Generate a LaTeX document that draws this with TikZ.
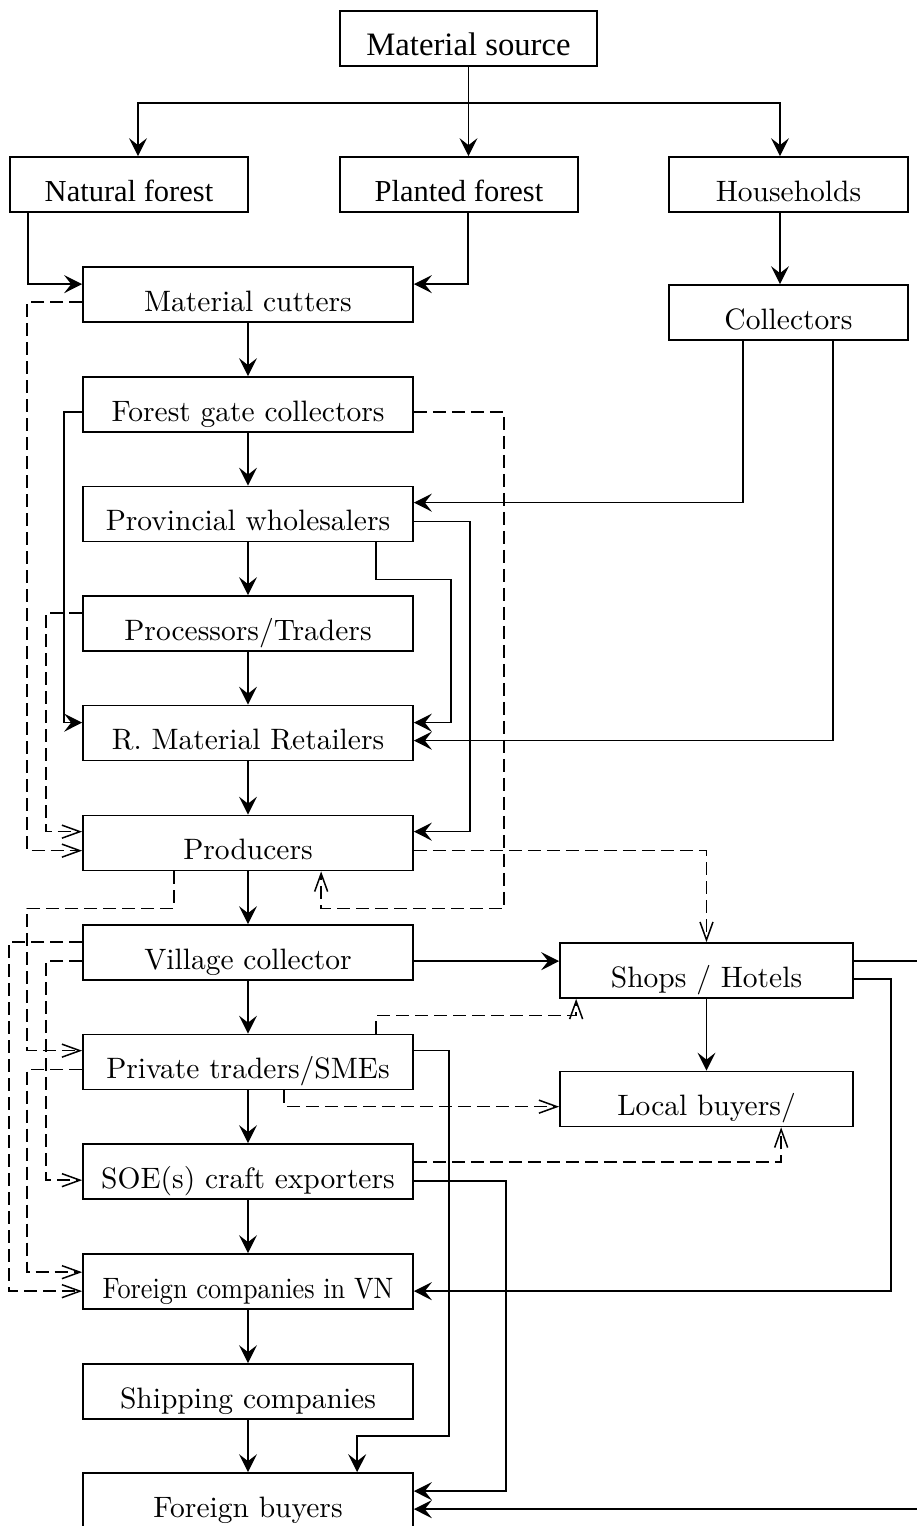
\documentclass[tikz,border=0pt]{standalone}
\usepackage{fontspec}
\setmainfont{lmroman10-regular.otf}
\newfontfamily\timesfont{Liberation Serif}
\usetikzlibrary{arrows.meta,calc}
\begin{document}
\begin{tikzpicture}[x=1pt,y=-1pt,
  box/.style={draw, line width=1.7pt, rectangle, inner sep=0pt,
    minimum height=55pt, text height=33pt, text depth=0pt,
    font=\fontsize{29.5}{34}\selectfont},
  chain/.style={box, minimum width=330pt},
  side/.style={box, minimum width=293pt},
  top/.style={box, minimum width=238pt, font=\timesfont\fontsize{30.5}{36}\selectfont},
  conn/.style={line width=1.5pt},
  arr/.style={conn, -{Stealth[length=18pt,width=18pt,inset=7pt]}},
  darr/.style={conn, dash pattern=on 13pt off 6pt,
    -{Straight Barb[length=18pt,width=13pt]}},
]
\useasboundingbox (0,0) rectangle (916,1526);
\fill[white] (0,0) rectangle (916,1526);

% ---------- sources ----------
\node[box, minimum width=257pt, font=\timesfont\fontsize{32.7}{38}\selectfont]
  (src) at (468.5,38.5) {Material source};
\node[top] (nat) at (129,184.5) {Natural forest};
\node[top] (pla) at (459,184.5) {Planted forest};
\node[box, minimum width=239pt] (hou) at (788.5,184.5) {Households};
\node[box, minimum width=239pt] (col) at (788.5,312.5) {Collectors};

% ---------- main chain ----------
\node[chain] (cut) at (248,294.5)  {Material cutters};
\node[chain] (fgc) at (248,404.5)  {Forest gate collectors};
\node[chain] (pro) at (248,514)    {Provincial wholesalers};
\node[chain] (prc) at (248,623.5)  {Processors/Traders};
\node[chain] (ret) at (248,733)    {R. Material Retailers};
\node[chain] (prd) at (248,843)    {Producers};
\node[chain] (vil) at (248,952.5)  {Village collector};
\node[chain] (pvt) at (248,1062)   {Private traders/SMEs};
\node[chain] (soe) at (248,1171.5) {SOE(s) craft exporters};
\node[chain] (fcv) at (248,1281.5) {\scalebox{0.89}[1]{Foreign companies in VN}};
\node[chain] (shc) at (248,1391.5) {Shipping companies};
\node[chain] (fby) at (248,1500.5) {Foreign buyers};

% ---------- domestic outlets ----------
\node[side] (shp) at (706.5,970.5) {Shops / Hotels};
\node[side] (loc) at (706.5,1099)  {Local buyers/};

% ---------- source branching ----------
\draw[conn] (src.south) -- ++(0,36) coordinate (bus);
\draw[arr] (bus) -| ($(nat.north)+(9,0)$);
\draw[arr] (bus) -- (bus |- pla.north);
\draw[arr] (bus) -| ($(hou.north)+(-8.5,0)$);
\draw[arr] ($(nat.south west)+(19,0)$) |- ($(cut.north west)+(0,18)$);
\draw[arr] ($(pla.south)+(9,0)$) |- ($(cut.north east)+(0,18)$);
\draw[arr] ($(hou.south)+(-8.5,0)$) -- ($(col.north)+(-8.5,0)$);

% ---------- straight chain ----------
\foreach \a/\b in {cut/fgc, fgc/pro, pro/prc, prc/ret, ret/prd, prd/vil,
                   vil/pvt, pvt/soe, soe/fcv, fcv/shc, shc/fby}
  \draw[arr] (\a.south) -- (\b.north);

% ---------- solid side flows ----------
\draw[arr] ($(col.south west)+(75,0)$) |- ($(pro.north east)+(0,17)$);
\draw[arr] ($(col.south west)+(165,0)$) |- ($(ret.north east)+(0,36)$);
\draw[arr] ($(pro.south west)+(294,0)$) -- ++(0,37)
  -| ($(ret.north east)+(37,18)$) -- ($(ret.north east)+(0,18)$);
\draw[arr] ($(pro.north east)+(0,36)$) -| ($(prd.north east)+(56,17)$)
  -- ($(prd.north east)+(0,17)$);
\draw[arr] ($(fgc.north west)+(0,36)$) -| ($(ret.north west)+(-18,18)$)
  -- ($(ret.north west)+(0,18)$);
\draw[arr] ($(vil.north east)+(0,37)$) -- ($(shp.north west)+(0,19)$);
\draw[arr] (shp.south) -- (loc.north);
\draw[arr] ($(shp.north east)+(0,37)$) -| ($(fcv.north east)+(477,38)$)
  -- ($(fcv.north east)+(0,38)$);
\draw[arr] ($(shp.north east)+(0,19)$) -| ($(fby.north east)+(505,37)$)
  -- ($(fby.north east)+(0,37)$);
\draw[arr] ($(pvt.north east)+(0,17)$) -| ($(fby.north west)+(367,-36)$)
  -| ($(fby.north west)+(275,0)$);
\draw[arr] ($(soe.north east)+(0,38)$) -| ($(fby.north east)+(92,19)$)
  -- ($(fby.north east)+(0,19)$);

% ---------- dashed flows ----------
\draw[darr] ($(cut.north west)+(0,36)$) -| ($(prd.north west)+(-55,36)$)
  -- ($(prd.north west)+(0,36)$);
\draw[darr] ($(prc.north west)+(0,18)$) -| ($(prd.north west)+(-36,17)$)
  -- ($(prd.north west)+(0,17)$);
\draw[darr] ($(fgc.north east)+(0,36)$) -| ($(prd.south west)+(422,37)$)
  -| ($(prd.south west)+(239,0)$);
\draw[darr] ($(prd.north east)+(0,36)$) -| (shp.north);
\draw[darr] ($(prd.south west)+(92,0)$) -- ++(0,37)
  -| ($(pvt.north west)+(-55,17)$) -- ($(pvt.north west)+(0,17)$);
\draw[darr] ($(vil.north west)+(0,18)$) -| ($(fcv.north west)+(-73,38)$)
  -- ($(fcv.north west)+(0,38)$);
\draw[darr] ($(vil.north west)+(0,37)$) -| ($(soe.north west)+(-36,37)$)
  -- ($(soe.north west)+(0,37)$);
\draw[darr] ($(pvt.north west)+(0,36)$) -| ($(fcv.north west)+(-55,19)$)
  -- ($(fcv.north west)+(0,19)$);
\draw[darr] ($(pvt.north west)+(294,0)$) -- ++(0,-18)
  -| ($(shp.south west)+(17,0)$);
\draw[darr] ($(pvt.south west)+(202,0)$) |- ($(loc.north west)+(0,36)$);
\draw[darr] ($(soe.north east)+(0,19)$) -| ($(loc.south west)+(222,0)$);
\end{tikzpicture}
\end{document}
